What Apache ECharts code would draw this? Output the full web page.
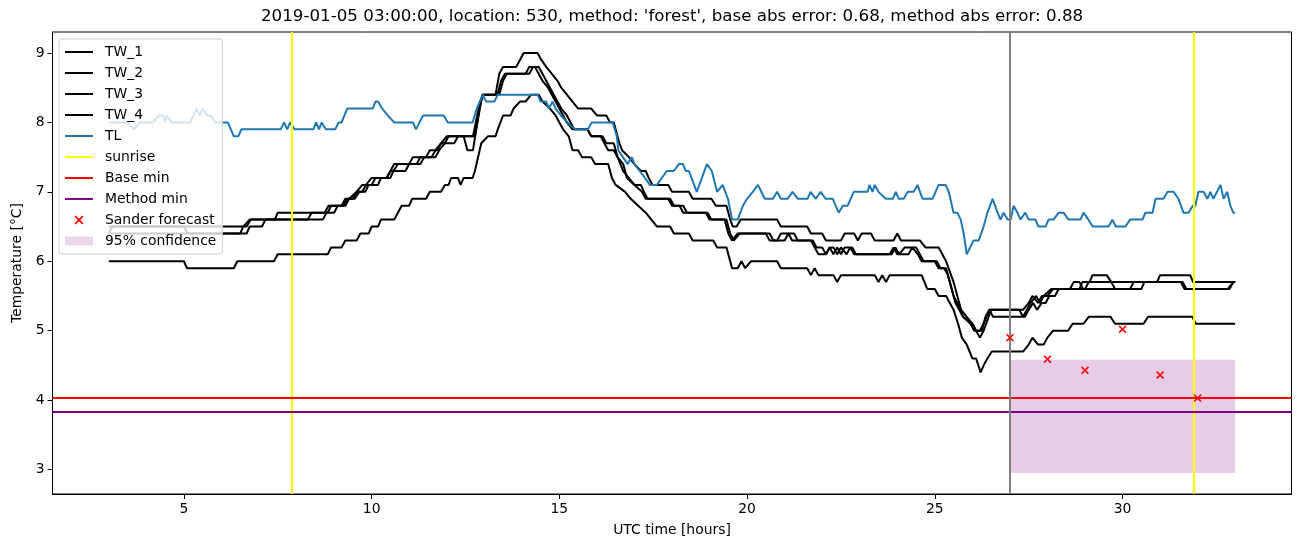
<!DOCTYPE html>
<html>
<head>
<meta charset="utf-8">
<script src="https://cdn.jsdelivr.net/npm/echarts@6/dist/echarts.min.js"></script>
<style>html,body{margin:0;padding:0;background:#fff;}#c{width:1302px;height:547px;}</style>
</head>
<body>
<div id="c"></div>
<script>
// ---- data (x = UTC time [hours], y = temperature [°C]) ----
const TW_1 = [[3.0,6.5],[6.67,6.5],[6.78,6.6],[7.42,6.6],[7.5,6.7],[8.75,6.7],[8.85,6.8],[9.25,6.8],[9.35,6.9],[9.5,6.9],[9.6,7.0],[9.75,7.1],[10.0,7.1],[10.1,7.2],[10.4,7.2],[10.5,7.3],[10.6,7.4],[11.0,7.4],[11.1,7.5],[11.45,7.5],[11.55,7.6],[11.75,7.6],[11.85,7.7],[12.0,7.8],[12.7,7.8],[12.85,8.2],[12.95,8.4],[13.3,8.4],[13.4,8.7],[13.5,8.8],[13.85,8.8],[13.95,8.9],[14.05,9.0],[14.42,9.0],[14.52,8.9],[14.65,8.8],[14.8,8.7],[14.95,8.6],[15.05,8.5],[15.2,8.4],[15.35,8.3],[15.5,8.2],[15.85,8.2],[16.0,8.1],[16.25,8.1],[16.35,8.0],[16.45,8.0],[16.6,7.7],[16.67,7.6],[16.85,7.5],[17.0,7.4],[17.17,7.3],[17.3,7.3],[17.38,7.2],[17.48,7.1],[17.9,7.1],[18.0,7.0],[18.45,7.0],[18.55,6.9],[19.05,6.9],[19.17,6.8],[19.45,6.8],[19.55,6.6],[19.62,6.5],[19.72,6.5],[19.83,6.6],[20.8,6.6],[20.9,6.5],[21.6,6.5],[21.7,6.4],[22.0,6.4],[22.1,6.3],[22.5,6.3],[22.6,6.4],[22.85,6.4],[22.95,6.3],[23.05,6.4],[23.3,6.4],[23.4,6.3],[23.9,6.3],[24.0,6.4],[24.1,6.3],[24.6,6.3],[24.75,6.2],[25.1,6.2],[25.2,6.1],[25.3,6.0],[25.5,5.7],[25.6,5.5],[25.75,5.2],[26.0,5.1],[26.2,4.9],[26.3,5.0],[26.5,5.3],[27.35,5.3],[27.5,5.4],[27.6,5.5],[27.75,5.4],[27.85,5.5],[28.0,5.5],[28.15,5.6],[28.85,5.6],[28.93,5.7],[29.12,5.7],[29.2,5.8],[29.58,5.8],[29.7,5.7],[29.8,5.6],[30.5,5.6],[30.58,5.7],[30.92,5.7],[31.0,5.8],[31.8,5.8],[31.88,5.7],[33.0,5.7]];
const TW_2 = [[3.0,6.4],[3.1,6.5],[5.0,6.5],[5.1,6.4],[6.5,6.4],[6.58,6.5],[6.75,6.6],[8.3,6.6],[8.4,6.7],[8.83,6.7],[8.92,6.8],[9.2,6.8],[9.3,6.9],[9.55,6.9],[9.67,7.0],[9.83,7.0],[9.92,7.1],[10.17,7.1],[10.25,7.2],[10.5,7.2],[10.58,7.3],[10.7,7.4],[11.2,7.4],[11.3,7.5],[11.6,7.5],[11.7,7.6],[11.85,7.7],[12.2,7.7],[12.3,7.8],[12.45,7.8],[12.55,7.6],[12.7,7.6],[12.9,8.3],[13.0,8.4],[13.35,8.4],[13.45,8.6],[13.55,8.7],[14.2,8.7],[14.3,8.8],[14.45,8.8],[14.55,8.7],[14.65,8.6],[14.75,8.5],[14.85,8.4],[14.95,8.3],[15.05,8.2],[15.2,8.1],[15.3,8.0],[15.4,7.9],[15.75,7.9],[15.85,7.8],[16.1,7.8],[16.2,7.7],[16.3,7.6],[16.45,7.6],[16.55,7.5],[16.7,7.3],[16.85,7.2],[17.0,7.1],[17.17,7.1],[17.25,7.0],[17.35,6.9],[17.9,6.9],[18.0,6.8],[18.2,6.8],[18.3,6.7],[18.9,6.7],[19.0,6.6],[19.4,6.6],[19.5,6.4],[19.6,6.3],[19.75,6.4],[20.6,6.4],[20.7,6.3],[21.0,6.3],[21.1,6.4],[21.25,6.4],[21.35,6.3],[21.7,6.3],[21.8,6.2],[21.9,6.1],[22.1,6.1],[22.2,6.2],[22.3,6.1],[22.4,6.2],[22.5,6.1],[22.6,6.2],[22.8,6.2],[22.9,6.1],[23.85,6.1],[23.95,6.2],[24.05,6.1],[24.2,6.2],[24.5,6.2],[24.6,6.1],[24.7,6.0],[25.0,6.0],[25.1,5.9],[25.25,5.9],[25.35,5.8],[25.45,5.6],[25.55,5.4],[25.65,5.3],[25.75,5.2],[25.95,5.1],[26.05,5.0],[26.2,5.0],[26.3,5.1],[26.45,5.3],[26.55,5.2],[27.4,5.2],[27.5,5.3],[27.62,5.4],[27.72,5.3],[27.85,5.4],[27.95,5.4],[28.05,5.5],[28.2,5.5],[28.3,5.6],[29.0,5.6],[29.1,5.7],[31.6,5.7],[31.7,5.6],[32.85,5.6],[32.95,5.7],[33.0,5.7]];
const TW_3 = [[3.0,6.4],[6.67,6.4],[6.75,6.5],[7.08,6.5],[7.17,6.6],[8.7,6.6],[8.8,6.7],[9.0,6.7],[9.1,6.8],[9.3,6.8],[9.4,6.9],[9.6,7.0],[9.75,7.0],[9.85,7.1],[10.0,7.2],[10.4,7.2],[10.5,7.3],[10.9,7.3],[11.0,7.4],[11.3,7.4],[11.4,7.5],[11.7,7.5],[11.8,7.6],[11.95,7.7],[12.05,7.8],[12.75,7.8],[12.95,8.4],[13.4,8.4],[13.5,8.6],[13.6,8.7],[14.1,8.7],[14.2,8.8],[14.35,8.8],[14.45,8.7],[14.55,8.6],[14.7,8.5],[14.8,8.4],[14.9,8.3],[15.0,8.2],[15.1,8.1],[15.2,8.0],[15.35,7.9],[15.75,7.9],[15.85,7.8],[16.15,7.8],[16.25,7.7],[16.45,7.7],[16.55,7.5],[16.7,7.4],[16.8,7.2],[17.0,7.1],[17.2,7.0],[17.3,6.9],[17.95,6.9],[18.05,6.8],[18.3,6.8],[18.4,6.7],[18.95,6.7],[19.05,6.6],[19.45,6.6],[19.55,6.4],[19.65,6.3],[19.8,6.4],[20.5,6.4],[20.6,6.3],[20.8,6.3],[20.9,6.4],[21.1,6.4],[21.2,6.3],[21.75,6.3],[21.85,6.2],[22.0,6.2],[22.1,6.1],[22.2,6.2],[22.3,6.2],[22.4,6.1],[22.5,6.2],[22.65,6.1],[22.75,6.2],[22.85,6.1],[23.8,6.1],[23.9,6.2],[24.0,6.1],[24.3,6.1],[24.4,6.2],[24.55,6.1],[24.65,6.0],[25.05,6.0],[25.15,5.9],[25.3,5.9],[25.4,5.7],[25.5,5.5],[25.6,5.4],[25.7,5.3],[25.85,5.2],[26.0,5.1],[26.1,5.0],[26.25,5.0],[26.35,5.2],[26.45,5.3],[27.25,5.3],[27.35,5.2],[27.45,5.3],[27.55,5.4],[27.7,5.5],[27.8,5.4],[27.9,5.5],[28.1,5.6],[28.6,5.6],[28.7,5.7],[28.85,5.7],[28.95,5.6],[30.2,5.6],[30.3,5.7],[31.55,5.7],[31.65,5.6],[32.8,5.6],[32.95,5.7],[33.0,5.7]];
const TW_4 = [[3.0,6.0],[5.0,6.0],[5.08,5.9],[6.33,5.9],[6.42,6.0],[7.4,6.0],[7.5,6.1],[8.83,6.1],[8.92,6.2],[9.2,6.2],[9.3,6.3],[9.6,6.3],[9.7,6.4],[9.92,6.4],[10.0,6.5],[10.17,6.5],[10.25,6.6],[10.6,6.6],[10.7,6.7],[10.8,6.8],[11.0,6.8],[11.08,6.9],[11.45,6.9],[11.55,7.0],[11.85,7.0],[11.95,7.1],[12.05,7.1],[12.12,7.2],[12.3,7.2],[12.37,7.1],[12.45,7.2],[12.69,7.2],[12.75,7.3],[12.92,7.7],[13.1,7.8],[13.3,7.8],[13.36,7.9],[13.5,8.1],[13.7,8.1],[13.78,8.2],[13.95,8.3],[14.1,8.3],[14.25,8.4],[14.45,8.4],[14.55,8.3],[14.75,8.2],[14.9,8.1],[15.0,8.0],[15.1,7.9],[15.25,7.8],[15.35,7.6],[15.5,7.6],[15.6,7.5],[15.85,7.5],[15.95,7.4],[16.3,7.4],[16.4,7.2],[16.5,7.1],[16.75,7.0],[16.9,6.9],[17.1,6.8],[17.3,6.7],[17.45,6.6],[17.6,6.5],[17.95,6.5],[18.05,6.4],[18.45,6.4],[18.55,6.3],[19.1,6.3],[19.2,6.2],[19.45,6.2],[19.6,5.9],[19.75,5.9],[19.85,6.0],[19.95,5.9],[20.1,6.0],[20.8,6.0],[20.9,5.9],[21.6,5.9],[21.7,5.8],[21.8,5.9],[21.9,5.8],[22.3,5.8],[22.4,5.7],[22.5,5.8],[23.4,5.8],[23.5,5.7],[23.6,5.8],[23.7,5.7],[23.8,5.8],[24.65,5.8],[24.8,5.6],[25.0,5.6],[25.1,5.5],[25.3,5.5],[25.4,5.4],[25.5,5.3],[25.62,5.1],[25.72,4.9],[25.85,4.8],[26.0,4.6],[26.1,4.6],[26.22,4.4],[26.3,4.5],[26.4,4.6],[26.52,4.7],[27.35,4.7],[27.5,4.8],[27.6,4.9],[27.75,4.8],[27.9,4.8],[28.0,4.9],[28.15,5.0],[28.55,5.0],[28.67,5.1],[28.96,5.1],[29.1,5.2],[29.68,5.2],[29.8,5.1],[30.56,5.1],[30.68,5.2],[31.86,5.2],[31.95,5.1],[33.0,5.1]];
const TL = [[3.0,8.0],[3.5,8.0],[3.67,7.9],[3.83,8.0],[4.17,8.0],[4.33,8.1],[4.45,8.1],[4.5,8.0],[4.55,8.1],[4.67,8.0],[5.17,8.0],[5.33,8.2],[5.42,8.1],[5.5,8.2],[5.62,8.1],[5.72,8.1],[5.83,8.0],[6.17,8.0],[6.25,7.9],[6.33,7.8],[6.45,7.8],[6.53,7.9],[7.58,7.9],[7.67,8.0],[7.75,7.9],[7.83,8.0],[7.95,7.9],[8.45,7.9],[8.52,8.0],[8.6,7.9],[8.67,8.0],[8.78,7.9],[9.03,7.9],[9.12,8.0],[9.2,8.0],[9.35,8.2],[10.03,8.2],[10.1,8.3],[10.17,8.3],[10.28,8.2],[10.43,8.1],[10.6,8.0],[11.1,8.0],[11.18,7.9],[11.37,8.1],[11.92,8.1],[12.03,8.0],[12.69,8.0],[12.8,8.2],[12.96,8.4],[13.05,8.3],[13.27,8.3],[13.36,8.4],[14.42,8.4],[14.5,8.3],[14.65,8.3],[14.72,8.2],[14.82,8.3],[14.9,8.2],[15.04,8.1],[15.22,8.0],[15.42,7.9],[15.76,7.9],[15.86,8.0],[16.42,8.0],[16.53,7.8],[16.57,7.6],[16.69,7.5],[16.82,7.4],[16.93,7.5],[17.0,7.4],[17.14,7.3],[17.28,7.2],[17.41,7.1],[17.6,7.1],[17.73,7.2],[17.86,7.3],[18.05,7.3],[18.18,7.4],[18.29,7.4],[18.37,7.3],[18.45,7.3],[18.66,7.0],[18.93,7.4],[19.06,7.3],[19.2,7.0],[19.35,7.1],[19.49,6.9],[19.6,6.6],[19.75,6.6],[19.89,6.8],[20.0,6.9],[20.15,7.0],[20.29,7.1],[20.47,6.9],[20.69,6.9],[20.8,7.0],[20.9,6.9],[21.08,6.9],[21.21,7.0],[21.35,6.9],[21.61,6.9],[21.69,7.0],[21.83,6.9],[21.96,7.0],[22.09,6.9],[22.28,6.9],[22.44,6.7],[22.55,6.8],[22.68,6.8],[22.84,7.0],[23.21,7.0],[23.26,7.1],[23.34,7.0],[23.4,7.1],[23.5,7.0],[23.69,6.9],[23.88,6.9],[23.96,7.0],[24.04,6.9],[24.17,6.9],[24.28,7.0],[24.44,7.0],[24.54,7.1],[24.67,6.9],[24.94,6.9],[25.1,7.1],[25.29,7.1],[25.37,7.0],[25.5,6.7],[25.6,6.7],[25.69,6.6],[25.77,6.4],[25.85,6.1],[26.03,6.3],[26.17,6.3],[26.3,6.5],[26.4,6.7],[26.54,6.9],[26.67,6.7],[26.75,6.6],[26.83,6.7],[26.94,6.6],[27.02,6.6],[27.1,6.8],[27.2,6.7],[27.28,6.6],[27.41,6.7],[27.5,6.6],[27.68,6.6],[27.76,6.5],[27.95,6.5],[28.03,6.6],[28.16,6.6],[28.3,6.7],[28.43,6.7],[28.56,6.6],[28.88,6.6],[28.96,6.7],[29.09,6.6],[29.2,6.5],[29.63,6.5],[29.73,6.6],[29.82,6.5],[30.08,6.5],[30.2,6.6],[30.53,6.6],[30.61,6.7],[30.8,6.7],[30.88,6.9],[31.09,6.9],[31.2,7.0],[31.36,7.0],[31.49,6.9],[31.62,6.7],[31.76,6.7],[31.87,6.8],[31.94,6.8],[32.02,7.0],[32.16,7.0],[32.26,6.9],[32.34,7.0],[32.42,6.9],[32.61,7.1],[32.69,6.9],[32.79,7.0],[32.87,6.8],[32.95,6.7],[33.0,6.7]];
const sunriseTimes = [7.87, 31.9];
const baseMin = 4.03;
const methodMin = 3.83;
const forecastStart = 27;
const forecastHours = [27, 28, 29, 30, 31, 32];
const forecastValues = [4.90, 4.59, 4.43, 5.02, 4.36, 4.03];
const confStart = 27, confEnd = 33, confLower = 2.95, confUpper = 4.58;
const xTicks = [5, 10, 15, 20, 25, 30];
const yTicks = [3, 4, 5, 6, 7, 8, 9];
const titleText = "2019-01-05 03:00:00, location: 530, method: 'forest', base abs error: 0.68, method abs error: 0.88";

// ---- chart ----
const FONT = 'DejaVu Sans';
const xPath = 'path://M0,1.4L1.4,0L5,3.6L8.6,0L10,1.4L6.4,5L10,8.6L8.6,10L5,6.4L1.4,10L0,8.6L3.6,5Z';
const chart = echarts.init(document.getElementById('c'), null, {renderer: 'canvas'});
function twSeries(name, data) {
  return {name, type: 'line', data, symbol: 'none', showSymbol: false, z: 3,
    lineStyle: {color: '#000', width: 2}, itemStyle: {color: '#000'}, silent: true};
}
function markSeries(name, color, md, z) {
  return {name, type: 'line', data: [], symbol: 'none', z: z,
    itemStyle: {color}, lineStyle: {color, width: 2},
    markLine: {silent: true, symbol: ['none', 'none'], label: {show: false},
      lineStyle: {color, width: 2, type: 'solid'}, emphasis: {disabled: true}, data: md}};
}
const hideSym = {opacity: 0};
const mergedForecast = forecastHours.map((h, i) => [h, forecastValues[i]]);
const option = {
  animation: false,
  backgroundColor: '#fff',
  title: {text: titleText, left: 261, top: 8, padding: 0,
    textStyle: {fontFamily: FONT, fontSize: 16.7, fontWeight: 'normal', color: '#000'}},
  grid: {left: 52.5, right: 10.5, top: 32, bottom: 53, show: true, borderColor: '#000', borderWidth: 1, backgroundColor: 'transparent'},
  legend: {
    orient: 'vertical', left: 59, top: 39, selectedMode: false,
    itemWidth: 28, itemHeight: 9, itemGap: 5,
    padding: [5, 6, 5, 5],
    backgroundColor: 'rgba(255,255,255,0.8)', borderColor: '#cccccc', borderWidth: 1, borderRadius: 3,
    textStyle: {fontFamily: FONT, fontSize: 13.9, color: '#000', padding: [0, 0, 0, 7], lineHeight: 16},
    data: [
      {name: 'TW_1', itemStyle: hideSym}, {name: 'TW_2', itemStyle: hideSym},
      {name: 'TW_3', itemStyle: hideSym}, {name: 'TW_4', itemStyle: hideSym},
      {name: 'TL', itemStyle: hideSym}, {name: 'sunrise', itemStyle: hideSym},
      {name: 'Base min', itemStyle: hideSym}, {name: 'Method min', itemStyle: hideSym},
      {name: 'Sander forecast', icon: xPath},
      {name: '95% confidence', icon: 'rect'}
    ],
    z: 20
  },
  xAxis: {
    type: 'value', min: 1.5, max: 34.5,
    name: 'UTC time [hours]', nameLocation: 'middle', nameGap: 29,
    nameTextStyle: {fontFamily: FONT, fontSize: 13.9, color: '#000'},
    axisLine: {show: true, onZero: false, lineStyle: {color: '#000', width: 1}},
    axisTick: {show: true, length: 5, customValues: xTicks, lineStyle: {color: '#000', width: 1}},
    axisLabel: {customValues: xTicks, margin: 8, fontFamily: FONT, fontSize: 13.9, color: '#000'},
    splitLine: {show: false}
  },
  yAxis: {
    type: 'value', min: 2.6475, max: 9.3025,
    name: 'Temperature [°C]', nameLocation: 'middle', nameGap: 28,
    nameTextStyle: {fontFamily: FONT, fontSize: 13.9, color: '#000'},
    axisLine: {show: true, onZero: false, lineStyle: {color: '#000', width: 1}},
    axisTick: {show: true, length: 5, customValues: yTicks, lineStyle: {color: '#000', width: 1}},
    axisLabel: {customValues: yTicks, margin: 8, fontFamily: FONT, fontSize: 13.9, color: '#000'},
    splitLine: {show: false}
  },
  series: [
    twSeries('TW_1', TW_1), twSeries('TW_2', TW_2), twSeries('TW_3', TW_3), twSeries('TW_4', TW_4),
    {name: 'TL', type: 'line', data: TL, symbol: 'none', showSymbol: false, z: 4, silent: true,
      lineStyle: {color: '#1f77b4', width: 2}, itemStyle: {color: '#1f77b4'}},
    markSeries('sunrise', '#ffff00', sunriseTimes.map(t => ({xAxis: t})), 5),
    markSeries('Base min', '#ff0000', [{yAxis: baseMin}], 5),
    markSeries('Method min', '#800080', [{yAxis: methodMin}], 5),
    markSeries('forecast start', '#808080', [{xAxis: forecastStart}], 5),
    {name: 'Sander forecast', type: 'scatter', data: mergedForecast, symbol: xPath, symbolSize: 8, z: 10,
      itemStyle: {color: '#ff0000', opacity: 1}, silent: true},
    {name: '95% confidence', type: 'scatter', data: [], z: 1, symbol: 'rect',
      itemStyle: {color: 'rgba(128,0,128,0.2)'},
      markArea: {silent: true, itemStyle: {color: 'rgba(128,0,128,0.2)', borderWidth: 0},
        data: [[{xAxis: confStart, yAxis: confLower}, {xAxis: confEnd, yAxis: confUpper}]]}}
  ]
};
chart.setOption(option);
</script>
</body>
</html>
